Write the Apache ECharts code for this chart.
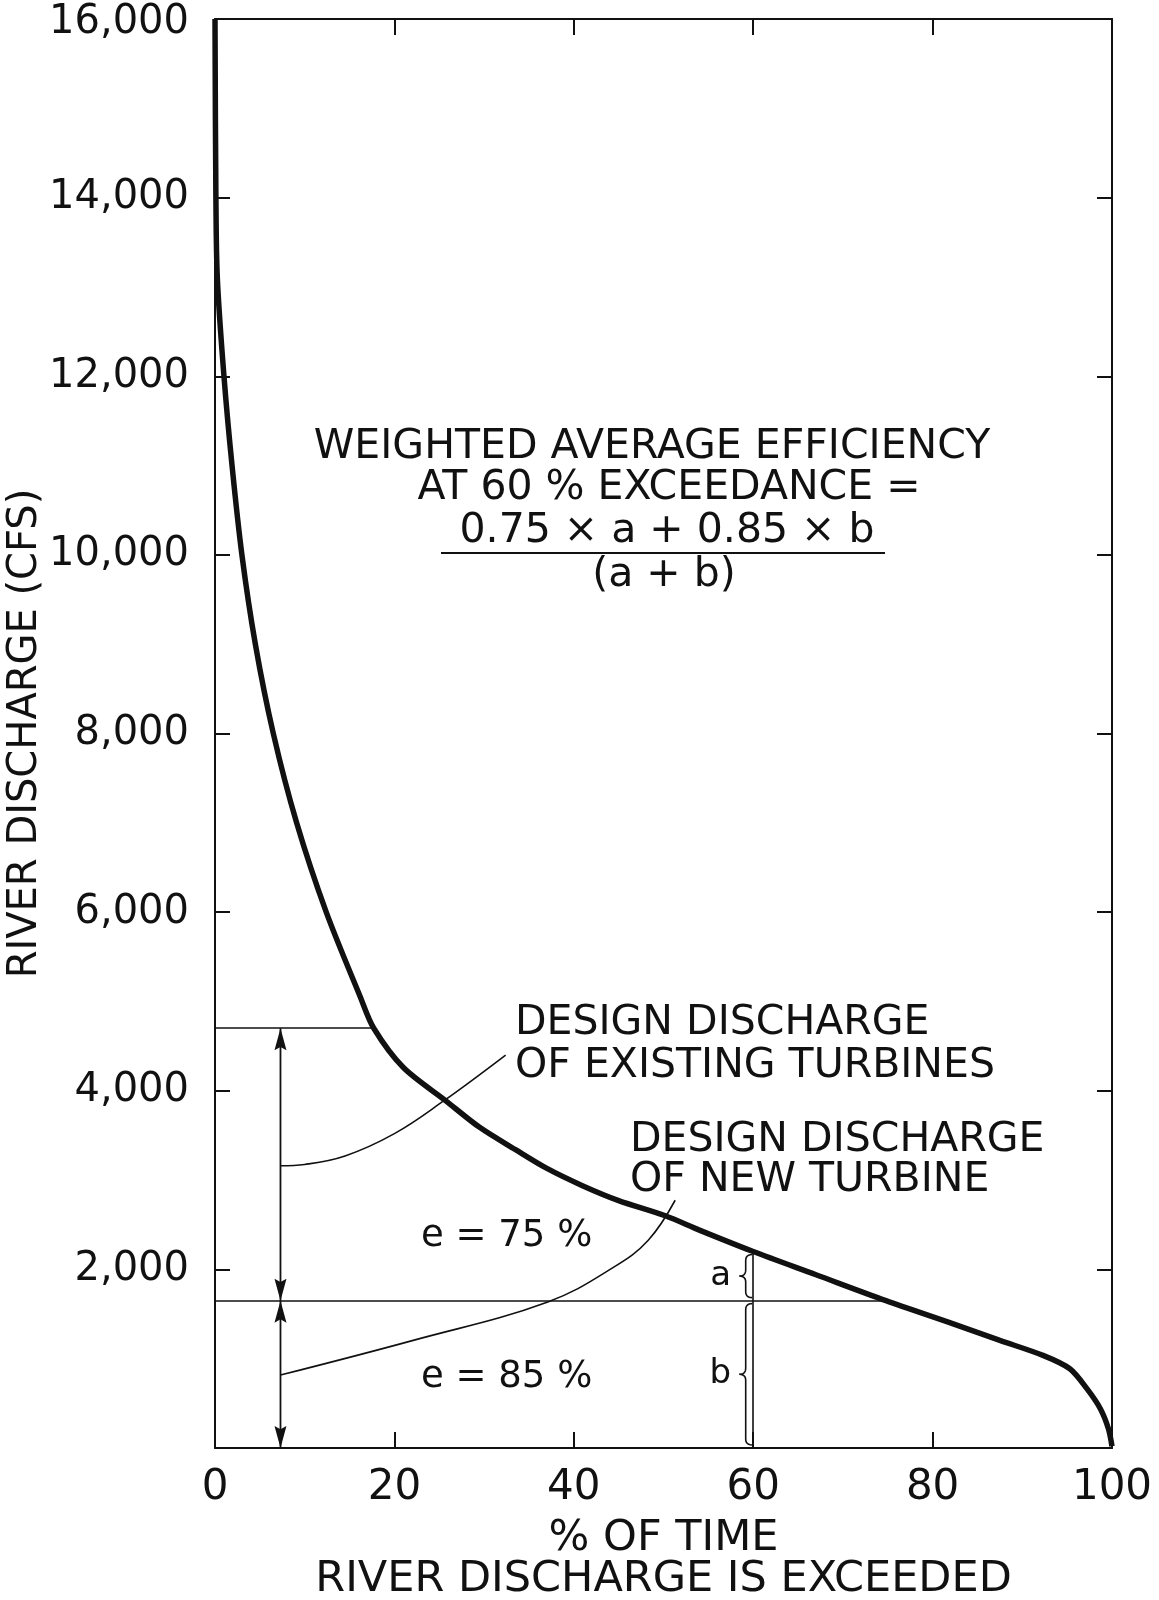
<!DOCTYPE html>
<html>
<head>
<meta charset="utf-8">
<script src="https://cdn.jsdelivr.net/npm/echarts@6/dist/echarts.min.js"></script>
<style>
  html, body { margin: 0; padding: 0; background: #fff; }
  #chart { width: 1159px; height: 1600px; }
</style>
</head>
<body>
<div id="chart"></div>
<script>
// ---- data ----
const pctTime = [0, 0.1, 0.26, 1.0, 1.9, 3.0, 4.5, 6.5, 9.1, 12.4, 16.2, 17.7, 21.0, 25.7, 29.5, 33.5, 37.0, 40.9, 45.0, 50.2, 54.0, 60.0, 67.0, 74.8, 82.3, 87.5, 92.3, 95.3, 97.2, 98.7, 99.6, 100];
const discharge = [16000, 14000, 13100, 12000, 11000, 10000, 9000, 8000, 7000, 6000, 5050, 4700, 4260, 3890, 3590, 3340, 3130, 2940, 2770, 2600, 2440, 2200, 1940, 1650, 1390, 1205, 1037, 887, 664, 440, 216, 20];

const designExisting = 4700;      // design discharge of existing turbines (cfs)
const designNew = 1650;           // design discharge of new turbine (cfs)
const existingMeetsCurve = 17.7;  // % where 4700 cfs meets the curve
const newMeetsCurve = 74.8;       // % where 1650 cfs meets the curve
const exceedance = 60;            // % exceedance studied
const dischargeAtExceedance = 2200;
const arrowAt = 7.3;              // % position of the dimension arrows

const existingLeaderX = [7.3, 10.0, 14.5, 20.0, 25.4, 32.4];
const existingLeaderY = [3160, 3175, 3270, 3520, 3880, 4400];
const newLeaderX = [7.3, 22.2, 37.1, 44.5, 48.3, 51.3];
const newLeaderY = [817, 1208, 1636, 2028, 2327, 2774];

const braceNames = ['a', 'b'];
const braceLow = [designNew, 0];
const braceHigh = [dischargeAtExceedance, designNew];

const xTicks = [0, 20, 40, 60, 80, 100];
const yTicks = [0, 2000, 4000, 6000, 8000, 10000, 12000, 14000, 16000];

// ---- chart ----
const INK = '#111';
const FONT = '"DejaVu Sans", "Liberation Sans", sans-serif';
const chart = echarts.init(document.getElementById('chart'), null, { renderer: 'canvas' });

function zip(xs, ys) { return xs.map((x, i) => [x, ys[i]]); }

function quadPts(p0, p1, p2, n) {
  const out = [];
  for (let i = 0; i <= n; i++) {
    const t = i / n, u = 1 - t;
    out.push([u * u * p0[0] + 2 * u * t * p1[0] + t * t * p2[0],
              u * u * p0[1] + 2 * u * t * p1[1] + t * t * p2[1]]);
  }
  return out;
}

const braceData = braceNames.map((n, i) => [exceedance, braceLow[i], braceHigh[i]]);
const arrowData = [[arrowAt, designExisting, designNew], [arrowAt, designNew, 0]];

function arrowHead(tip, dir, len, half) {
  // dir: +1 pointing down (tip below), -1 pointing up
  const by = tip[1] - dir * len;
  const ny = tip[1] - dir * len * 0.85;
  return [[tip[0], tip[1]], [tip[0] - half, by], [tip[0], ny], [tip[0] + half, by]];
}

const yMax = yTicks[yTicks.length - 1];

const option = {
  backgroundColor: '#fff',
  animation: false,
  grid: { left: 215, right: 47, top: 19, bottom: 152, containLabel: false, outerBoundsMode: 'none' },
  xAxis: [
    {
      type: 'value', position: 'bottom', min: xTicks[0], max: xTicks[xTicks.length - 1], interval: 20,
      axisLine: { show: true, onZero: false, lineStyle: { color: INK, width: 2 } },
      axisTick: { show: true, inside: true, length: 16, lineStyle: { color: INK, width: 2 } },
      axisLabel: { show: true, margin: 19, color: INK, fontSize: 42, fontFamily: FONT },
      splitLine: { show: false },
      name: '% OF TIME\nRIVER DISCHARGE IS EXCEEDED',
      nameLocation: 'middle', nameGap: 70, nameMoveOverlap: false,
      nameTextStyle: { color: INK, fontSize: 43, fontFamily: FONT, lineHeight: 41 }
    },
    {
      type: 'value', position: 'top', min: xTicks[0], max: xTicks[xTicks.length - 1], interval: 20,
      axisLine: { show: true, onZero: false, lineStyle: { color: INK, width: 2 } },
      axisTick: { show: true, inside: true, length: 16, lineStyle: { color: INK, width: 2 } },
      axisLabel: { show: false }, splitLine: { show: false }
    }
  ],
  yAxis: [
    {
      type: 'value', position: 'left', min: yTicks[0], max: yMax, interval: 2000,
      axisLine: { show: true, onZero: false, lineStyle: { color: INK, width: 2 } },
      axisTick: { show: true, inside: true, length: 15, lineStyle: { color: INK, width: 2 } },
      axisLabel: {
        show: true, margin: 26, color: INK, fontSize: 40, fontFamily: FONT,
        formatter: v => v === 0 ? '' : (v === yMax ? '{top|' + v.toLocaleString('en-US') + '}' : v.toLocaleString('en-US')),
        rich: { top: { fontSize: 40, fontFamily: FONT, color: INK, padding: [8, 0, 0, 0] } }
      },
      splitLine: { show: false },
      name: 'RIVER DISCHARGE (CFS)', nameLocation: 'middle', nameGap: 169, nameMoveOverlap: false,
      nameTextStyle: { color: INK, fontSize: 40, fontFamily: FONT }
    },
    {
      type: 'value', position: 'right', min: yTicks[0], max: yMax, interval: 2000,
      axisLine: { show: true, onZero: false, lineStyle: { color: INK, width: 2 } },
      axisTick: { show: true, inside: true, length: 15, lineStyle: { color: INK, width: 2 } },
      axisLabel: { show: false }, splitLine: { show: false }
    }
  ],
  series: [
    {
      name: 'Flow duration curve', type: 'line', data: zip(pctTime, discharge),
      showSymbol: false, smooth: 0.3, clip: true,
      lineStyle: { color: INK, width: 5.5 }, z: 5
    },
    {
      name: 'Existing leader', type: 'line', data: zip(existingLeaderX, existingLeaderY),
      showSymbol: false, smooth: 0.4, lineStyle: { color: INK, width: 1.6 }
    },
    {
      name: 'New leader', type: 'line', data: zip(newLeaderX, newLeaderY),
      showSymbol: false, smooth: 0.4, lineStyle: { color: INK, width: 1.6 }
    },
    {
      name: 'Design lines', type: 'lines', coordinateSystem: 'cartesian2d',
      symbol: ['none', 'none'],
      lineStyle: { color: INK, width: 1.6, opacity: 1 },
      data: [
        { coords: [[0, designExisting], [existingMeetsCurve, designExisting]] },
        { coords: [[0, designNew], [newMeetsCurve, designNew]] },
        { coords: [[exceedance, 0], [exceedance, dischargeAtExceedance]] }
      ]
    },
    {
      name: 'Dimension arrows', type: 'custom', data: arrowData,
      renderItem: function (params, api) {
        const pA = api.coord([api.value(0), api.value(1)]);
        const pB = api.coord([api.value(0), api.value(2)]);
        return {
          type: 'group',
          children: [
            { type: 'line', shape: { x1: pA[0], y1: pA[1], x2: pB[0], y2: pB[1] }, style: { stroke: INK, lineWidth: 1.8 } },
            { type: 'polygon', shape: { points: arrowHead(pA, -1, 22, 6) }, style: { fill: INK } },
            { type: 'polygon', shape: { points: arrowHead(pB, 1, 22, 6) }, style: { fill: INK } }
          ]
        };
      }
    },
    {
      name: 'Braces', type: 'custom', data: braceData,
      renderItem: function (params, api) {
        const x = api.value(0), lo = api.value(1), hi = api.value(2);
        const pT = api.coord([x, hi]);
        const pB = api.coord([x, lo]);
        const xr = pT[0] - 1, xl = xr - 13, xm = xr - 6.5;
        const yT = pT[1] + 3, yB = pB[1] - 3, ym = (yT + yB) / 2, r = 6;
        let pts = [];
        pts = pts.concat(quadPts([xr, yT], [xm, yT], [xm, yT + r], 6));
        pts = pts.concat(quadPts([xm, ym - r], [xm, ym], [xl, ym], 6));
        pts = pts.concat(quadPts([xl, ym], [xm, ym], [xm, ym + r], 6));
        pts = pts.concat(quadPts([xm, yB - r], [xm, yB], [xr, yB], 6));
        return {
          type: 'group',
          children: [
            { type: 'polyline', shape: { points: pts }, style: { stroke: INK, lineWidth: 1.6, fill: null } },
            { type: 'text', style: {
                text: braceNames[params.dataIndex], x: xl - 8, y: ym,
                textAlign: 'right', textVerticalAlign: 'middle',
                fontSize: 34, fontFamily: FONT, fill: INK } }
          ]
        };
      }
    }
  ],
  graphic: [
    { type: 'text', style: { text: 'WEIGHTED AVERAGE EFFICIENCY', x: 652, y: 447, textAlign: 'center', textVerticalAlign: 'middle', fontSize: 41, fontFamily: FONT, fill: INK } },
    { type: 'text', style: { text: 'AT 60 % EXCEEDANCE =', x: 669, y: 488, textAlign: 'center', textVerticalAlign: 'middle', fontSize: 41, fontFamily: FONT, fill: INK } },
    { type: 'text', style: { text: '0.75 × a + 0.85 × b', x: 667, y: 531, textAlign: 'center', textVerticalAlign: 'middle', fontSize: 41, fontFamily: FONT, fill: INK } },
    { type: 'line', shape: { x1: 441, y1: 553, x2: 885, y2: 553 }, style: { stroke: INK, lineWidth: 2 } },
    { type: 'text', style: { text: '(a + b)', x: 664, y: 575, textAlign: 'center', textVerticalAlign: 'middle', fontSize: 41, fontFamily: FONT, fill: INK } },
    { type: 'text', style: { text: 'DESIGN DISCHARGE', x: 515, y: 1023, textAlign: 'left', textVerticalAlign: 'middle', fontSize: 41, fontFamily: FONT, fill: INK } },
    { type: 'text', style: { text: 'OF EXISTING TURBINES', x: 515, y: 1066, textAlign: 'left', textVerticalAlign: 'middle', fontSize: 41, fontFamily: FONT, fill: INK } },
    { type: 'text', style: { text: 'DESIGN DISCHARGE', x: 630, y: 1140, textAlign: 'left', textVerticalAlign: 'middle', fontSize: 41, fontFamily: FONT, fill: INK } },
    { type: 'text', style: { text: 'OF NEW TURBINE', x: 630, y: 1180, textAlign: 'left', textVerticalAlign: 'middle', fontSize: 41, fontFamily: FONT, fill: INK } },
    { type: 'text', style: { text: 'e = 75 %', x: 421, y: 1236, textAlign: 'left', textVerticalAlign: 'middle', fontSize: 37, fontFamily: FONT, fill: INK } },
    { type: 'text', style: { text: 'e = 85 %', x: 421, y: 1377, textAlign: 'left', textVerticalAlign: 'middle', fontSize: 37, fontFamily: FONT, fill: INK } }
  ]
};
chart.setOption(option);
</script>
</body>
</html>
